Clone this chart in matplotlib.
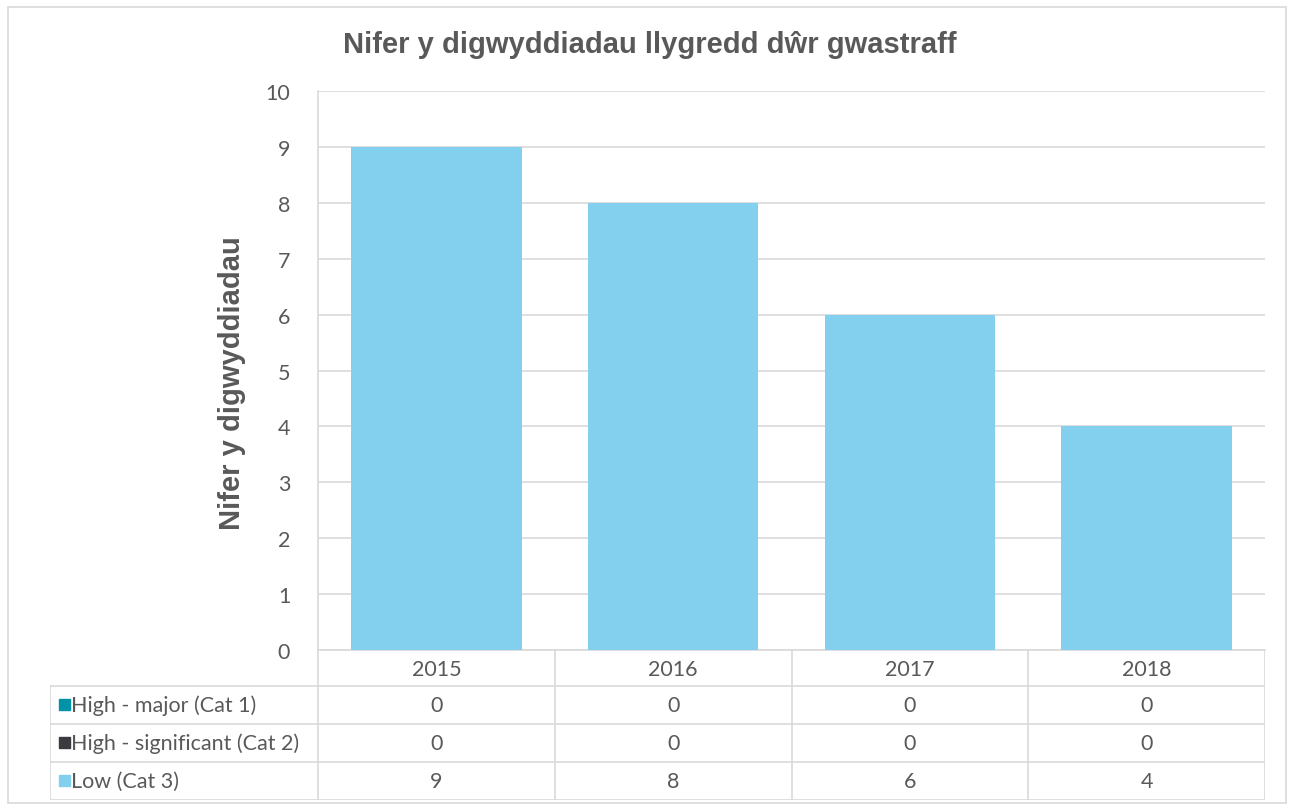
import matplotlib
matplotlib.use("Agg")
import matplotlib.pyplot as plt
from matplotlib.patches import Rectangle

years = ["2015", "2016", "2017", "2018"]
series_names = ["High - major (Cat 1)", "High - significant (Cat 2)", "Low (Cat 3)"]
cat1 = [0, 0, 0, 0]
cat2 = [0, 0, 0, 0]
cat3 = [9, 8, 6, 4]
series_values = [cat1, cat2, cat3]
series_colors = ["#0093A8", "#3A3A3F", "#83D0EE"]

title = "Nifer y digwyddiadau llygredd dŵr gwastraff"
ylabel = "Nifer y digwyddiadau"

W, H = 1294, 812
fig = plt.figure(figsize=(W / 100, H / 100), dpi=100)
fig.patch.set_facecolor("white")

grid_c = "#D9D9D9"
text_c = "#595959"
num_font = ["Lato", "DejaVu Sans"]
title_font = ["Liberation Sans", "DejaVu Sans"]
fs = 15.5

# outer chart border
fig.add_artist(Rectangle((8 / W, 1 - 804 / H), (1286 - 8) / W, (804 - 8) / H,
                         transform=fig.transFigure, fill=False, edgecolor=grid_c, lw=1.2))

# plot area
L, R, T, B = 318, 1265, 92, 651
ax = fig.add_axes([L / W, 1 - B / H, (R - L) / W, (B - T) / H])
x = range(len(years))
bottom = [0] * len(years)
for vals, col in zip(series_values, series_colors):
    ax.bar(x, vals, width=0.72, bottom=bottom, color=col, zorder=3)
    bottom = [b + v for b, v in zip(bottom, vals)]
ax.set_xlim(-0.5, len(years) - 0.5)
ax.set_ylim(0, 10)
ax.set_yticks(range(0, 11))
ax.yaxis.grid(True, color=grid_c, lw=1.2, zorder=0)
ax.set_xticks([])
for s in ["top", "right"]:
    ax.spines[s].set_visible(False)
ax.spines["left"].set_color(grid_c)
ax.spines["left"].set_linewidth(1.2)
ax.spines["bottom"].set_color(grid_c)
ax.spines["bottom"].set_linewidth(1.2)
ax.tick_params(axis="y", length=0, pad=20, labelsize=fs, labelcolor=text_c)
for lab in ax.get_yticklabels():
    lab.set_family(num_font)

fig.text(232 / W, 1 - 383 / H, ylabel, rotation=90, ha="center", va="center",
         fontsize=21, fontweight="bold", color=text_c, family=title_font)

fig.text(650 / W, 1 - 45 / H, title, ha="center", va="center",
         fontsize=21, fontweight="bold", color=text_c, family=title_font)

# data table
TL, TB = 50, 801
row_h = [36, 38, 38, 38]
tab = fig.add_axes([TL / W, 1 - TB / H, (R - TL) / W, (TB - B) / H])
tab.set_xlim(TL, R)
tab.set_ylim(TB, B)
tab.axis("off")
col_w = (R - L) / len(years)
row_tops = [B]
for h in row_h:
    row_tops.append(row_tops[-1] + h)
lw = 1.2
tab.plot([L, R], [row_tops[1], row_tops[1]], color=grid_c, lw=lw)
tab.plot([TL, L], [row_tops[1], row_tops[1]], color=grid_c, lw=lw)
for yy in row_tops[2:]:
    tab.plot([TL, R], [yy, yy], color=grid_c, lw=lw)
tab.plot([TL, TL], [row_tops[1], row_tops[-1]], color=grid_c, lw=lw)
for i in range(len(years) + 1):
    xx = L + i * col_w
    tab.plot([xx, xx], [B, row_tops[-1]], color=grid_c, lw=lw)
for i, yr in enumerate(years):
    tab.text(L + (i + 0.5) * col_w, (row_tops[0] + row_tops[1]) / 2 + 1, yr,
             ha="center", va="center", fontsize=fs, color=text_c, family=num_font)
for r, (name, vals, col) in enumerate(zip(series_names, series_values, series_colors)):
    yc = (row_tops[r + 1] + row_tops[r + 2]) / 2
    tab.add_patch(Rectangle((TL + 9, yc - 6), 11, 11, color=col))
    tab.text(TL + 21, yc, name, ha="left", va="center", fontsize=fs,
             color=text_c, family=num_font)
    for i, v in enumerate(vals):
        tab.text(L + (i + 0.5) * col_w, yc, str(v), ha="center", va="center",
                 fontsize=fs, color=text_c, family=num_font)

fig.savefig("out.png", dpi=100, facecolor="white")
